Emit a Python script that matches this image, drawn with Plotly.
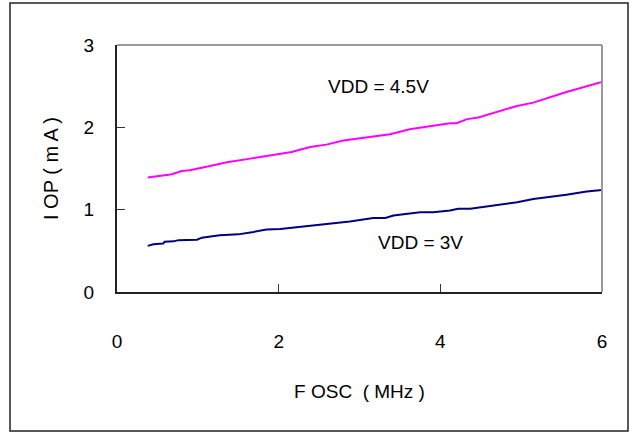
import plotly.graph_objects as go

# Data
fosc_45 = [0.38, 0.53, 0.68, 0.80, 0.90, 1.15, 1.36, 1.65, 1.89, 2.16, 2.39, 2.59, 2.80, 3.01,
           3.38, 3.62, 4.12, 4.20, 4.33, 4.47, 4.74, 4.95, 5.15, 5.56, 6.0]
iop_45 = [1.39, 1.41, 1.43, 1.47, 1.48, 1.53, 1.575, 1.62, 1.66, 1.70, 1.76, 1.79, 1.84, 1.87,
          1.915, 1.976, 2.05, 2.05, 2.10, 2.12, 2.20, 2.26, 2.30, 2.43, 2.55]

fosc_3 = [0.38, 0.45, 0.57, 0.59, 0.70, 0.76, 0.99, 1.05, 1.27, 1.50, 1.69, 1.85, 2.02, 2.39,
          2.59, 2.88, 3.17, 3.32, 3.42, 3.75, 3.91, 4.12, 4.22, 4.37, 4.95, 5.15, 5.56, 5.81, 6.0]
iop_3 = [0.56, 0.58, 0.59, 0.61, 0.615, 0.63, 0.635, 0.66, 0.69, 0.70, 0.73, 0.76, 0.765, 0.80,
         0.82, 0.855, 0.90, 0.90, 0.93, 0.97, 0.97, 0.99, 1.01, 1.01, 1.09, 1.13, 1.18, 1.22, 1.24]

x_ticks = [0, 2, 4, 6]
y_ticks = [0, 1, 2, 3]
labels = ["VDD = 4.5V", "VDD = 3V"]

FONT = "Liberation Sans, Arial, sans-serif"

fig = go.Figure()
fig.add_trace(go.Scatter(x=fosc_45, y=iop_45, mode="lines",
                         line=dict(color="#FF00FF", width=2), showlegend=False))
fig.add_trace(go.Scatter(x=fosc_3, y=iop_3, mode="lines",
                         line=dict(color="#000080", width=2), showlegend=False))

fig.update_layout(
    width=632, height=433,
    margin=dict(l=117, r=30, t=45, b=141),
    paper_bgcolor="white", plot_bgcolor="white",
    font=dict(family=FONT, size=19, color="black"),
    xaxis=dict(range=[0, 6], tickvals=x_ticks, ticks="inside", ticklen=8,
               tickcolor="#333", showgrid=False, zeroline=False,
               showline=True, linecolor="#222", linewidth=2,
               ticklabelstandoff=31,
               title=dict(text="F OSC\u00a0 ( MHz )", standoff=34, font=dict(size=19))),
    yaxis=dict(range=[0, 3], tickvals=y_ticks, ticks="inside", ticklen=8,
               tickcolor="#333", showgrid=False, zeroline=False,
               showline=True, linecolor="#222", linewidth=2,
               ticklabelstandoff=17,
               title=dict(text="I OP ( m A )", standoff=20, font=dict(size=20))),
    shapes=[
        dict(type="line", xref="paper", yref="paper", x0=0, x1=1, y0=1, y1=1,
             line=dict(color="#999", width=2)),
        dict(type="line", xref="paper", yref="paper", x0=1, x1=1, y0=0, y1=1,
             line=dict(color="#999", width=2)),
        dict(type="rect", xref="paper", yref="paper",
             x0=(10 - 117) / 485, x1=(628 - 117) / 485,
             y0=(292 - 431) / 247, y1=(292 - 3) / 247,
             line=dict(color="#222", width=1.5)),
    ],
    annotations=[
        dict(x=3.23, y=2.50, text=labels[0], showarrow=False, font=dict(size=19)),
        dict(x=3.75, y=0.60, text=labels[1], showarrow=False, font=dict(size=19)),
    ],
)

fig.write_html("out.html")
